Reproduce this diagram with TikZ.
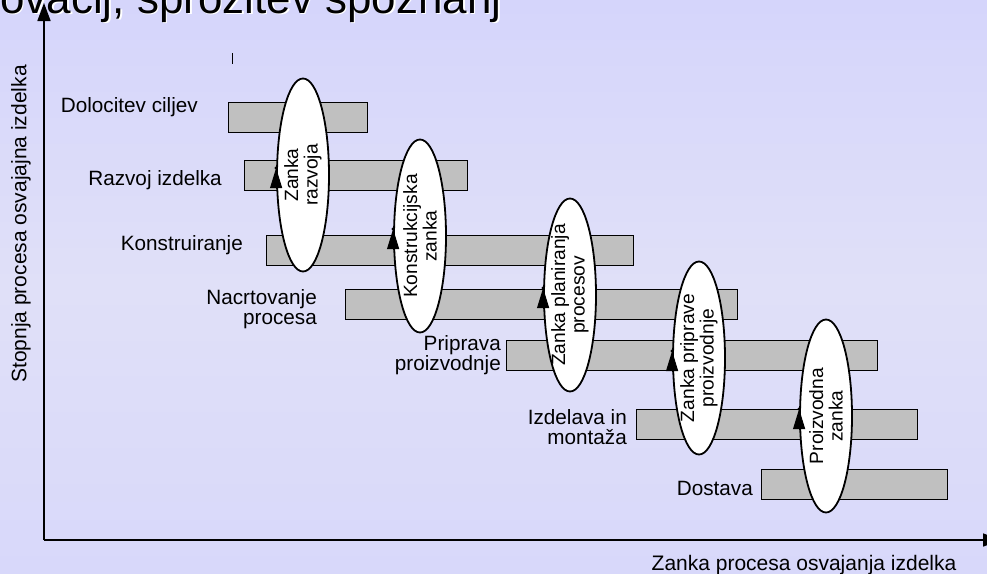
\documentclass[tikz,border=0pt]{standalone}
\usepackage{fontspec}
\setmainfont{Liberation Sans}
\usetikzlibrary{shapes.geometric, arrows.meta, positioning}
\usepackage{xcolor}
\definecolor{SlideTop}{RGB}{213,213,251}
\definecolor{SlideMid}{RGB}{224,224,248}
\definecolor{SlideBottom}{RGB}{216,216,250}
\definecolor{BarGray}{RGB}{192,192,192}
\tikzset{
    % Phase bars and their labels
    phasebar/.style={
        rectangle,
        draw=black,
        fill=BarGray,
        line width=0.8pt,
        minimum height=30pt,
        inner sep=0pt
    },
    phaselabel/.style={
        anchor=east,
        align=right,
        inner sep=0pt,
        font=\fontsize{20.7}{20.5}\selectfont
    },
    % Loop ellipses
    zanka/.style={
        ellipse,
        draw=black,
        fill=white,
        line width=1.8pt,
        minimum width=52pt,
        minimum height=193pt,
        inner sep=0pt
    },
    zankatext/.style={
        rotate=90,
        align=center,
        inner sep=0pt,
        font=\fontsize{19.2}{19.5}\selectfont
    },
    % Arrow styles
    zankaarrow/.style={
        -{Triangle[length=20pt,width=12pt]},
        line width=1pt,
        draw=black
    },
    axis/.style={
        -{Triangle[length=18pt,width=13pt]},
        line width=1.6pt,
        draw=black
    }
}
\begin{document}
\begin{tikzpicture}[x=1pt, y=-1pt]
    % slide background
    \shade[top color=SlideTop, bottom color=SlideBottom, middle color=SlideMid] (0,0) rectangle (987,573);
    \useasboundingbox (0,0) rectangle (987,573);

    % title, cut by the top edge
    \node[anchor=base west, inner sep=0pt, text=white, font=\fontsize{44}{48}\selectfont] (titleshadow) at (1.5,14.5) {ovacij, sprožitev spoznanj};
    \node[anchor=base west, inner sep=0pt, text=black, font=\fontsize{44}{48}\selectfont] (title) at (0,13) {ovacij, sprožitev spoznanj};

    % axes
    \coordinate (origin) at (44,540);
    \coordinate (ytop) at (44,3);
    \coordinate (xend) at (1001,540);
    \draw[axis] (origin) -- (ytop);
    \draw[axis] (origin) -- (xend);
    \node[rotate=90, font=\fontsize{21}{24}\selectfont] (ylabel) at (21,224) {Stopnja procesa osvajajna izdelka};
    \node[anchor=base, font=\fontsize{21}{24}\selectfont] (xlabel) at (804,570) {Zanka procesa osvajanja izdelka};
    \draw[line width=0.8pt] (232,53) -- (232,64);

    % phases
    \node[phasebar, minimum width=139pt] (b1) at (297.5,117) {};
    \node[phasebar, minimum width=223pt] (b2) at (355.5,175.5) {};
    \node[phasebar, minimum width=367pt] (b3) at (449.5,250.5) {};
    \node[phasebar, minimum width=392pt] (b4) at (541,304) {};
    \node[phasebar, minimum width=371pt] (b5) at (691.5,355.5) {};
    \node[phasebar, minimum width=281pt] (b6) at (776.5,424) {};
    \node[phasebar, minimum width=186pt] (b7) at (854,484) {};

    \node[phaselabel] (l1) at (198,107) {Dolocitev ciljev};
    \node[phaselabel] (l2) at (222,180) {Razvoj izdelka};
    \node[phaselabel] (l3) at (243,245) {Konstruiranje};
    \node[phaselabel] (l4) at (317,309) {Nacrtovanje\\procesa};
    \node[phaselabel] (l5) at (501,355) {Priprava\\proizvodnje};
    \node[phaselabel] (l6) at (627,427) {Izdelava in\\montaža};
    \node[phaselabel] (l7) at (753,488) {Dostava};

    % loops
    \node[zanka] (e1) at (303,175) {};
    \node[zanka] (e2) at (420,236) {};
    \node[zanka] (e3) at (570,295) {};
    \node[zanka] (e4) at (699,358) {};
    \node[zanka] (e5) at (826,416) {};

    \node[zankatext] (t1) at (e1) {Zanka\\razvoja};
    \node[zankatext] (t2) at (e2) {Konstrukcijska\\zanka};
    \node[zankatext] (t3) at (e3) {Zanka planiranja\\procesov};
    \node[zankatext] (t4) at (e4) {Zanka priprave\\proizvodnje};
    \node[zankatext] (t5) at (e5) {Proizvodna\\zanka};

    \foreach \e in {e1,e2,e3,e4,e5}{
        \draw[zankaarrow] ([yshift=-13pt]\e.west) -- ([yshift=7pt]\e.west);
        \fill ([yshift=7pt]\e.west) circle (1.8pt);
    }
\end{tikzpicture}
\end{document}
